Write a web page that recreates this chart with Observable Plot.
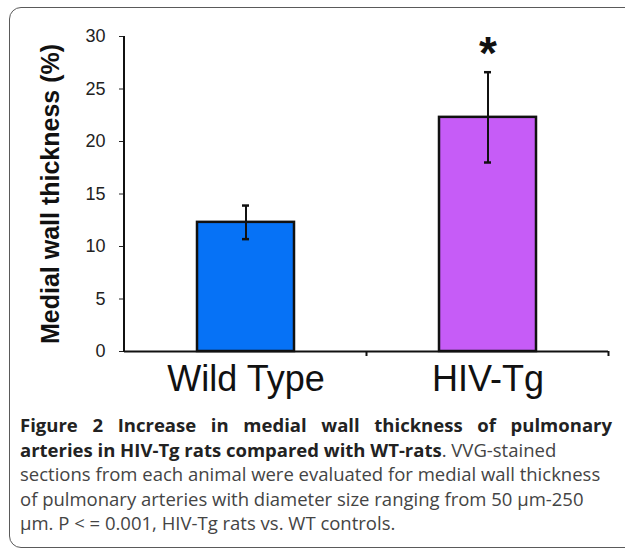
<!DOCTYPE html>
<html><head><meta charset="utf-8">
<script src="https://cdn.jsdelivr.net/npm/d3@7"></script>
<script src="https://cdn.jsdelivr.net/npm/@observablehq/plot@0.6"></script>
<style>
html,body{margin:0;padding:0;background:#fff;overflow:hidden;width:625px;height:555px}
#frame{position:absolute;left:9px;top:7px;width:700px;height:541px;border:1.5px solid #5a5a5a;border-radius:12px;box-sizing:border-box}
#chart{position:absolute;left:0;top:0}
#caption{position:absolute;left:20px;top:413px;width:592px;font-family:"Open Sans";font-size:18.5px;line-height:24.5px;color:#444}
#caption b{color:#222;font-weight:700}
.j{text-align:justify;text-align-last:justify}
</style></head><body>
<div id="frame"></div>
<div id="chart"></div>
<div id="caption">
<div class="j"><b>Figure 2 Increase in medial wall thickness of pulmonary</b></div>
<div><b>arteries in HIV-Tg rats compared with WT-rats</b>. VVG-stained</div>
<div>sections from each animal were evaluated for medial wall thickness</div>
<div>of pulmonary arteries with diameter size ranging from 50 μm-250</div>
<div>μm. P &lt; = 0.001, HIV-Tg rats vs. WT controls.</div>
</div>
<script>
const groups = ["Wild Type", "HIV-Tg"];
const means = [12.3, 22.3];
const lows = [10.7, 18.0];
const highs = [13.9, 26.6];
const sigMarks = ["", "*"];
const colors = ["#0672f6", "#c65cf7"];
const yTicks = [0, 5, 10, 15, 20, 25, 30];
const yLabel = "Medial wall thickness (%)";

const data = groups.map((g, i) => ({group: g, mean: means[i], lo: lows[i], hi: highs[i], sig: sigMarks[i]}));

const chart = Plot.plot({
  width: 625, height: 400,
  marginLeft: 124, marginRight: 17, marginTop: 36, marginBottom: 49,
  style: {fontFamily: "'Liberation Sans', Arial, sans-serif", background: "transparent"},
  x: {domain: groups, paddingInner: 0.6, paddingOuter: 0.3, align: 0.5},
  y: {domain: [0, 30]},
  color: {domain: groups, range: colors},
  marks: [
    Plot.barY(data, {x: "group", y: "mean", fill: "group", stroke: "#111", strokeWidth: 2.5}),
    Plot.ruleX(data, {x: "group", y1: "lo", y2: "hi", stroke: "#111", strokeWidth: 2}),
    Plot.tickY(data, {x: "group", y: "lo", stroke: "#111", strokeWidth: 2.5, insetLeft: 45, insetRight: 45}),
    Plot.tickY(data, {x: "group", y: "hi", stroke: "#111", strokeWidth: 2.5, insetLeft: 45, insetRight: 45}),
    Plot.text(data, {x: "group", y: "hi", text: "sig", dy: -18, fontSize: 46, fontWeight: "bold", fill: "#111"}),
    Plot.ruleY([0], {stroke: "#111", strokeWidth: 2}),
    Plot.axisY({ticks: yTicks, tickSize: 5, tickPadding: 14, fontSize: 18, color: "#222", label: null}),
    Plot.axisX({tickSize: 0, tickPadding: 14, fontSize: 36, color: "#111", label: null}),
    Plot.text([yLabel], {frameAnchor: "left", textAnchor: "middle", dx: -74, rotate: -90, fontSize: 25, fontWeight: "bold", fill: "#111"})
  ]
});

const xs = chart.scale("x"), ys = chart.scale("y");
const svg = d3.select(chart);
const x0 = xs.range[0], x1 = xs.range[1];
const yb = ys.apply(0), yt = ys.apply(d3.max(yTicks));
svg.append("line").attr("x1", x0).attr("x2", x0).attr("y1", yt).attr("y2", yb + 1)
  .attr("stroke", "#111").attr("stroke-width", 2);
groups.forEach(g => {
  const bx = xs.apply(g) + xs.bandwidth / 2 + xs.step / 2;
  svg.append("line").attr("x1", bx).attr("x2", bx).attr("y1", yb).attr("y2", yb + 5)
    .attr("stroke", "#111").attr("stroke-width", 2);
});
document.getElementById("chart").appendChild(chart);
</script>
</body></html>
